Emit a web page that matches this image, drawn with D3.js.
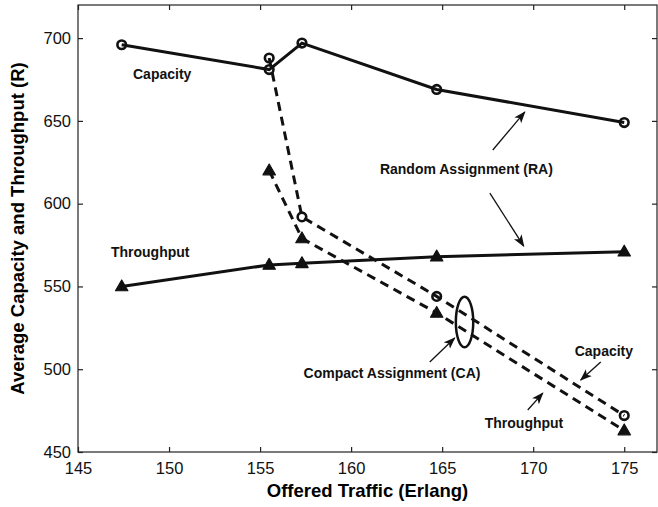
<!DOCTYPE html>
<html>
<head>
<meta charset="utf-8">
<script src="https://cdn.jsdelivr.net/npm/d3@7"></script>
<style>
  html, body { margin: 0; padding: 0; background: #fff; }
  svg { display: block; font-family: "Liberation Sans", Arial, Helvetica, sans-serif; }
</style>
</head>
<body>
<div id="canvas"></div>
<script>
// offered traffic (Erlang) for each measured point
const traffic = [147.4, 155.5, 157.3, 164.7, 175];

// random assignment (solid lines)
const raCapacity   = [696, 681, 697, 669, 649];
const raThroughput = [550, 563, 564, 568, 571];

// compact assignment (dashed lines), starts at 155.5
const caTraffic    = [155.5, 157.3, 164.7, 175];
const caCapacity   = [688, 592, 544, 472];
const caThroughput = [620, 579, 534, 463];

const xTicks = [145, 150, 155, 160, 165, 170, 175];
const yTicks = [450, 500, 550, 600, 650, 700];

// text annotations, in data units (left x, baseline y)
const labels = [
  { text: 'Capacity',               x: 148.02, y: 675.3 },
  { text: 'Throughput',             x: 146.81, y: 567.8 },
  { text: 'Random Assignment (RA)', x: 161.58, y: 617.9 },
  { text: 'Compact Assignment (CA)',x: 157.39, y: 494.7 },
  { text: 'Capacity',               x: 172.28, y: 508.0 },
  { text: 'Throughput',             x: 167.34, y: 464.7 }
];
// arrows: [x1, y1] tail -> [x2, y2] head
const arrows = [
  [167.78, 632.4, 169.54, 655.4],
  [167.62, 606.4, 169.48, 574.4],
  [164.32, 504.4, 165.69, 518.9],
  [173.71, 504.4, 172.61, 493.5],
  [169.70, 475.4, 170.53, 485.6]
];
// ellipse grouping the two CA lines
const ellipse = { cx: 166.23, cy: 528.5, rx: 0.478, ry: 15.3 };

(function() {
  const W = 658, H = 507;
  const m = { left: 78, right: 1, top: 5, bottom: 55 };

  const svg = d3.select('#canvas').append('svg')
    .attr('width', W).attr('height', H);

  const x = d3.scaleLinear().domain([145, 176.8]).range([m.left, W - m.right]);
  const y = d3.scaleLinear().domain([450, 720]).range([H - m.bottom, m.top]);

  const axisColor = '#222';

  // frame
  svg.append('rect')
    .attr('x', x(145)).attr('y', y(720))
    .attr('width', x(176.8) - x(145)).attr('height', y(450) - y(720))
    .attr('fill', 'none').attr('stroke', axisColor).attr('stroke-width', 1.2);

  // axes with inward ticks
  const gx = svg.append('g').attr('transform', `translate(0,${y(450)})`)
    .call(d3.axisBottom(x).tickValues(xTicks).tickSizeInner(-5).tickSizeOuter(0).tickPadding(10));
  const gy = svg.append('g').attr('transform', `translate(${x(145)},0)`)
    .call(d3.axisLeft(y).tickValues(yTicks).tickSizeInner(-5).tickSizeOuter(0).tickPadding(7));
  const gxt = svg.append('g').attr('transform', `translate(0,${y(720)})`)
    .call(d3.axisTop(x).tickValues(xTicks).tickSizeInner(-5).tickSizeOuter(0).tickFormat(''));
  const gyr = svg.append('g').attr('transform', `translate(${x(176.8)},0)`)
    .call(d3.axisRight(y).tickValues(yTicks).tickSizeInner(-5).tickSizeOuter(0).tickFormat(''));

  [gx, gy, gxt, gyr].forEach(g => {
    g.select('.domain').remove();
    g.selectAll('line').attr('stroke', axisColor).attr('stroke-width', 1.2);
    g.selectAll('text')
      .attr('fill', '#111')
      .style('font-size', '16.5px')
      .style('font-family', '"Liberation Sans", Arial, sans-serif');
  });

  // axis titles
  svg.append('text')
    .attr('x', (x(145) + x(176.8)) / 2).attr('y', 497)
    .attr('text-anchor', 'middle')
    .style('font-size', '18.5px').style('font-weight', 'bold')
    .text('Offered Traffic (Erlang)');
  svg.append('text')
    .attr('transform', `translate(24,${(y(450) + y(720)) / 2}) rotate(-90)`)
    .attr('text-anchor', 'middle')
    .style('font-size', '18.5px').style('font-weight', 'bold')
    .text('Average Capacity and Throughput (R)');

  const line = d3.line().x(d => x(d[0])).y(d => y(d[1]));
  const zip = (xs, ys) => xs.map((v, i) => [v, ys[i]]);

  const series = [
    { pts: zip(traffic, raCapacity),     dash: null,  mark: 'circle' },
    { pts: zip(traffic, raThroughput),   dash: null,  mark: 'tri' },
    { pts: zip(caTraffic, caCapacity),   dash: '9,6', mark: 'circle' },
    { pts: zip(caTraffic, caThroughput), dash: '9,6', mark: 'tri' }
  ];

  series.forEach(s => {
    svg.append('path')
      .attr('d', line(s.pts))
      .attr('fill', 'none')
      .attr('stroke', '#111')
      .attr('stroke-width', 3)
      .attr('stroke-dasharray', s.dash);
  });

  series.forEach(s => {
    const g = svg.append('g');
    if (s.mark === 'circle') {
      g.selectAll('circle').data(s.pts).join('circle')
        .attr('cx', d => x(d[0])).attr('cy', d => y(d[1]))
        .attr('r', 4.3)
        .attr('fill', 'none').attr('stroke', '#111').attr('stroke-width', 2.6);
    } else {
      g.selectAll('path').data(s.pts).join('path')
        .attr('transform', d => `translate(${x(d[0])},${y(d[1])})`)
        .attr('d', 'M0,-6.5L6.2,4.3L-6.2,4.3Z')
        .attr('fill', '#111').attr('stroke', '#111').attr('stroke-width', 1.2)
        .attr('stroke-linejoin', 'round');
    }
  });

  // annotations
  svg.append('defs').append('marker')
    .attr('id', 'head')
    .attr('viewBox', '0 -5 12 10')
    .attr('refX', 11).attr('refY', 0)
    .attr('markerWidth', 12).attr('markerHeight', 10)
    .attr('markerUnits', 'userSpaceOnUse')
    .attr('orient', 'auto')
    .append('path')
    .attr('d', 'M0,-4.5L12,0L0,4.5L3,0Z')
    .attr('fill', '#111');

  svg.selectAll('line.arrow').data(arrows).join('line')
    .attr('class', 'arrow')
    .attr('x1', d => x(d[0])).attr('y1', d => y(d[1]))
    .attr('x2', d => x(d[2])).attr('y2', d => y(d[3]))
    .attr('stroke', '#111').attr('stroke-width', 1.3)
    .attr('marker-end', 'url(#head)');

  svg.append('ellipse')
    .attr('cx', x(ellipse.cx)).attr('cy', y(ellipse.cy))
    .attr('rx', x(ellipse.cx + ellipse.rx) - x(ellipse.cx))
    .attr('ry', y(ellipse.cy - ellipse.ry) - y(ellipse.cy))
    .attr('fill', 'none').attr('stroke', '#111').attr('stroke-width', 2.5);

  svg.selectAll('text.note').data(labels).join('text')
    .attr('class', 'note')
    .attr('x', d => x(d.x)).attr('y', d => y(d.y))
    .style('font-size', '14px').style('font-weight', 'bold')
    .attr('fill', '#111')
    .text(d => d.text);
})();
</script>
</body>
</html>
